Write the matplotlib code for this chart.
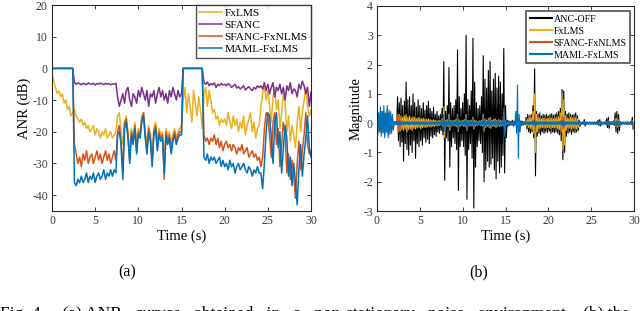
import numpy as np
import matplotlib
matplotlib.use("Agg")
import matplotlib.pyplot as plt

plt.rcParams['font.family'] = ['Liberation Serif', 'DejaVu Serif']
plt.rcParams['axes.unicode_minus'] = False

# ---------------- Panel (a): ANR curves, sampled every 0.2 s ----------------
anr_step = 0.2
fxlms_anr = [
    -2, -4, -6, -8, -7, -9, -8, -11, -10, -13, -12, -15, -14,
    -13, -15, -16, -17, -16, -18, -17, -19, -18, -20, -19, -18, -21, -19, -20, -22, -20, -21, -19, -22, -21, -20, -22, -21, -20,
    -15, -14, -20, -24, -17, -15, -20, -27, -19, -22, -17, -24, -19, -20, -15, -14, -20, -24, -18, -21, -27, -19, -17, -23, -19, -21, -20, -30, -19, -22, -20, -24, -21, -19, -22, -20, -19,
    -18,
    -10, -6, -14, -8, -12, -17, -7, -11, -15, -9, -13, -19,
    -8, -6, -12, -7, -10, -14, -13, -16, -15, -18, -16, -17,
    -16, -18, -14, -17, -19, -15, -18, -16, -20, -17, -19, -15, -21, -18, -16, -14, -20, -17, -22, -19, -18,
    -12, -8, -5, -10, -7, -12, -17, -9, -6, -13, -10, -19, -14, -8, -11, -20, -15, -23, -18, -21, -25, -17, -12, -20, -14, -10, -6, -12, -15, -13]
sfanc_anr = [
    0, 0, 0, 0, 0, 0, 0, 0, 0, 0, 0, 0, 0,
    -4.5, -5, -4.6, -4.8, -5.2, -4.7, -4.9, -5.1, -4.6, -4.9, -5.0, -4.7, -5.2, -4.8, -5.0, -4.6, -4.9, -5.1, -4.7, -5.0, -4.8, -5.2, -4.9, -5.0, -4.7,
    -9, -12, -10, -8, -11, -7, -6, -10, -12, -8, -9, -11, -7, -9, -6, -8, -10, -7, -12, -8, -9, -7, -11, -8, -6, -9, -7, -10, -8, -11, -7, -9, -6, -8, -10, -7, -9,
    -8,
    0, 0, 0, 0, 0, 0, 0, 0, 0, 0, 0, 0,
    -4.5, -5, -4.3, -5.5, -4.8, -5.2, -4.6, -6, -5, -5.4, -4.8, -5.2,
    -5, -5.5, -4.8, -5.2, -6, -5.5, -5, -6.2, -5.8, -6.5, -6, -5.5, -6.8, -6.2, -5.8, -6.5, -7, -6, -6.5, -5.5, -6,
    -5.5, -6.5, -4.5, -7, -5, -8, -6, -4.5, -9, -6, -7, -5, -8, -6, -10, -5.5, -7, -4.5, -8, -6.5, -7, -9, -5, -6.5, -4, -5.5, -8, -6, -12, -7.5]
sfanc_fxnlms_anr = [
    0, 0, 0, 0, 0, 0, 0, 0, 0, 0, 0, 0, 0,
    -24, -27, -30, -28, -31, -27, -29, -26, -30, -28, -27, -30, -28, -26, -29, -27, -30, -28, -26, -29, -27, -30, -28, -26, -29,
    -20, -18, -23, -33, -17, -16, -21, -29, -20, -23, -18, -26, -20, -21, -16, -14, -21, -26, -19, -22, -30, -20, -18, -25, -20, -22, -21, -35, -20, -23, -21, -26, -22, -20, -23, -21, -20,
    -20,
    0, 0, 0, 0, 0, 0, 0, 0, 0, 0, 0, 0,
    -21, -23, -22, -24, -22, -23, -21, -24, -22, -25, -23, -26,
    -24, -23, -25, -24, -26, -24, -25, -27, -25, -26, -24, -27, -26, -25, -28, -27, -26, -28, -27, -29, -28,
    -31, -28, -19, -14, -15, -21, -28, -17, -14, -24, -19, -31, -24, -17, -21, -33, -27, -35, -29, -34, -41, -30, -23, -32, -26, -21, -14, -24, -27, -26]
maml_fxlms_anr = [
    0, 0, 0, 0, 0, 0, 0, 0, 0, 0, 0, 0, 0,
    -36, -37, -35, -36, -34, -36, -35, -33, -36, -34, -35, -33, -36, -34, -33, -35, -34, -32, -35, -33, -34, -32, -34, -32, -33,
    -21, -20, -24, -35, -19, -17, -22, -30, -21, -24, -19, -27, -21, -22, -17, -15, -22, -27, -20, -23, -31, -21, -19, -26, -21, -23, -22, -33, -21, -24, -22, -27, -23, -21, -24, -22, -21,
    -21,
    0, 0, 0, 0, 0, 0, 0, 0, 0, 0, 0, 0,
    -28, -29, -27, -30, -28, -29, -28, -30, -29, -28, -31, -29,
    -31, -30, -32, -29, -31, -30, -33, -31, -30, -32, -31, -30, -32, -33, -31, -32, -34, -32, -33, -31, -33,
    -33, -38, -30, -20, -14, -15, -22, -30, -17, -14, -25, -20, -33, -25, -18, -22, -34, -28, -37, -30, -36, -43, -32, -24, -34, -27, -22, -15, -25, -28, -27]

# ---------------- Panel (b): waveform envelopes (peak / trough every 0.2 s) ----------------
wave_step = 0.2
ancoff_up = [
    0.3, 0.35, 0.25, 0.4, 0.35, 0.3, 0.45, 0.35, 0.25, 0.2,
    0.05, 0.05,
    0.9, 0.7, 0.85, 0.6, 0.75, 1.4, 0.8, 0.9, 0.6, 1.0, 0.7, 0.55, 0.8, 0.6, 0.5, 0.7, 0.45, 0.6, 0.75, 0.5, 0.4, 0.55, 0.3, 0.4, 0.25, 0.3,
    0.5, 2.1, 0.4, 0.6, 1.9, 0.7, 0.5, 0.6, 0.8, 2.5, 0.9, 0.5, 0.7, 1.0, 3.0, 0.8, 0.6, 1.1, 2.9, 1.4, 0.7, 0.5, 0.6, 0.9, 2.3, 1.5, 1.2, 1.8, 2.1, 1.1, 1.5, 1.7, 1.2, 1.6, 1.4, 1.0, 2.55, 0.6,
    0.1, 0.08, 0.06, 0.1, 0.07, 0.2, 0.15, 0.1, 0.08, 0.06, 0.05,
    0.2, 0.3, 0.25, 0.3, 0.6, 1.85, 0.4, 0.3, 0.35, 0.25, 0.3, 0.28, 0.3, 0.25, 0.3, 0.32, 0.27, 0.3, 0.35, 0.4, 0.5, 1.15, 1.1, 0.4, 0.3, 0.35, 0.3, 0.28, 0.3, 0.35, 0.25, 0.1,
    0.04, 0.03, 0.12, 0.04, 0.03, 0.03, 0.03, 0.03, 0.03, 0.04, 0.1, 0.12, 0.04, 0.03, 0.04, 0.15, 0.2, 0.05, 0.04, 0.08, 0.35, 0.4, 0.3, 0.05, 0.03, 0.03, 0.03, 0.04, 0.03, 0.05, 0.2]
ancoff_down = [
    -0.3, -0.25, -0.35, -0.3, -0.4, -0.3, -0.35, -0.3, -0.25, -0.2,
    -0.05, -0.05,
    -0.6, -0.8, -0.65, -1.3, -0.7, -0.9, -1.1, -0.75, -1.0, -0.6, -1.2, -0.7, -0.8, -0.6, -0.75, -0.5, -0.65, -0.55, -0.7, -0.45, -0.5, -0.4, -0.45, -0.3, -0.35, -0.25,
    -0.4, -1.95, -0.5, -0.6, -1.5, -0.8, -0.5, -0.7, -0.9, -2.3, -0.8, -0.6, -0.8, -1.1, -2.6, -0.9, -0.7, -1.2, -2.9, -1.5, -0.8, -0.6, -0.7, -1.0, -2.0, -1.6, -1.3, -1.5, -1.4, -1.2, -1.6, -1.9, -1.3, -1.7, -1.5, -1.1, -1.7, -0.5,
    -0.1, -0.08, -0.06, -0.1, -0.07, -0.2, -0.15, -0.1, -0.08, -0.06, -0.05,
    -0.2, -0.3, -0.35, -0.3, -0.5, -1.8, -0.45, -0.35, -0.4, -0.3, -0.35, -0.3, -0.32, -0.28, -0.35, -0.3, -0.33, -0.3, -0.35, -0.4, -0.6, -1.25, -1.0, -0.45, -0.35, -0.3, -0.38, -0.3, -0.33, -0.3, -0.25, -0.1,
    -0.04, -0.03, -0.1, -0.04, -0.03, -0.03, -0.03, -0.03, -0.03, -0.04, -0.08, -0.1, -0.04, -0.03, -0.04, -0.15, -0.18, -0.05, -0.04, -0.08, -0.3, -0.35, -0.25, -0.05, -0.03, -0.03, -0.03, -0.04, -0.03, -0.05, -0.2]
fxlms_up = [
    0.2, 0.25, 0.2, 0.3, 0.25, 0.2, 0.3, 0.25, 0.2, 0.15,
    0.03, 0.03,
    0.3, 0.3, 0.25, 0.2, 0.25, 0.3, 0.2, 0.25, 0.18, 0.22, 0.2, 0.15, 0.2, 0.18, 0.15, 0.17, 0.15, 0.13, 0.15, 0.12, 0.1, 0.12, 0.1, 0.08, 0.1, 0.08,
    0.15, 0.55, 0.1, 0.12, 0.3, 0.1, 0.08, 0.1, 0.12, 0.3, 0.1, 0.08, 0.1, 0.12, 0.3, 0.1, 0.08, 0.1, 0.2, 0.1, 0.08, 0.06, 0.08, 0.1, 0.3, 0.15, 0.1, 0.15, 0.2, 0.1, 0.12, 0.15, 0.1, 0.12, 0.1, 0.08, 0.4, 0.06,
    0.03, 0.03, 0.02, 0.03, 0.03, 0.05, 0.04, 0.03, 0.03, 0.02, 0.03,
    0.1, 0.15, 0.2, 0.18, 0.4, 1.0, 0.3, 0.2, 0.18, 0.15, 0.17, 0.16, 0.15, 0.17, 0.16, 0.18, 0.15, 0.17, 0.2, 0.22, 0.35, 1.0, 0.8, 0.25, 0.18, 0.17, 0.2, 0.18, 0.17, 0.2, 0.15, 0.05,
    0.02, 0.02, 0.05, 0.02, 0.02, 0.02, 0.02, 0.02, 0.02, 0.02, 0.04, 0.05, 0.02, 0.02, 0.02, 0.06, 0.08, 0.02, 0.02, 0.04, 0.15, 0.18, 0.12, 0.02, 0.02, 0.02, 0.02, 0.02, 0.02, 0.02, 0.08]
fxlms_down = [
    -0.2, -0.15, -0.25, -0.2, -0.3, -0.2, -0.25, -0.2, -0.15, -0.12,
    -0.03, -0.03,
    -0.3, -0.28, -0.22, -0.25, -0.2, -0.3, -0.22, -0.2, -0.25, -0.18, -0.2, -0.17, -0.15, -0.2, -0.16, -0.14, -0.15, -0.13, -0.12, -0.14, -0.1, -0.12, -0.09, -0.1, -0.08, -0.07,
    -0.12, -0.5, -0.1, -0.12, -0.25, -0.1, -0.08, -0.1, -0.12, -0.28, -0.1, -0.08, -0.1, -0.12, -0.25, -0.1, -0.08, -0.1, -0.2, -0.1, -0.08, -0.06, -0.08, -0.1, -0.28, -0.15, -0.1, -0.15, -0.18, -0.1, -0.12, -0.15, -0.1, -0.12, -0.1, -0.08, -0.35, -0.06,
    -0.03, -0.03, -0.02, -0.03, -0.03, -0.05, -0.04, -0.03, -0.03, -0.02, -0.03,
    -0.1, -0.15, -0.18, -0.2, -0.35, -1.0, -0.3, -0.2, -0.18, -0.15, -0.16, -0.17, -0.15, -0.16, -0.18, -0.15, -0.17, -0.16, -0.2, -0.22, -0.3, -0.9, -0.75, -0.25, -0.18, -0.17, -0.2, -0.17, -0.18, -0.2, -0.15, -0.05,
    -0.02, -0.02, -0.04, -0.02, -0.02, -0.02, -0.02, -0.02, -0.02, -0.02, -0.03, -0.04, -0.02, -0.02, -0.02, -0.05, -0.07, -0.02, -0.02, -0.03, -0.12, -0.15, -0.1, -0.02, -0.02, -0.02, -0.02, -0.02, -0.02, -0.02, -0.07]
sfanc_fxnlms_up = [
    0.2, 0.25, 0.2, 0.3, 0.25, 0.2, 0.3, 0.25, 0.2, 0.15,
    0.03, 0.03,
    0.3, 0.25, 0.1, 0.06, 0.05, 0.05, 0.04, 0.04, 0.04, 0.04, 0.04, 0.04, 0.04, 0.03, 0.03, 0.03, 0.03, 0.03, 0.03, 0.03, 0.03, 0.03, 0.03, 0.03, 0.03, 0.03,
    0.1, 0.25, 0.05, 0.05, 0.15, 0.05, 0.04, 0.05, 0.05, 0.2, 0.05, 0.04, 0.05, 0.06, 0.2, 0.05, 0.04, 0.05, 0.12, 0.05, 0.04, 0.04, 0.04, 0.05, 0.18, 0.08, 0.05, 0.08, 0.1, 0.05, 0.06, 0.08, 0.05, 0.06, 0.05, 0.04, 0.3, 0.04,
    0.02, 0.02, 0.02, 0.02, 0.02, 0.03, 0.03, 0.02, 0.02, 0.02, 0.02,
    0.03, 0.04, 0.04, 0.04, 0.1, 0.3, 0.06, 0.04, 0.04, 0.04, 0.04, 0.04, 0.04, 0.04, 0.04, 0.04, 0.04, 0.04, 0.05, 0.05, 0.08, 0.25, 0.2, 0.05, 0.04, 0.04, 0.04, 0.04, 0.04, 0.04, 0.04, 0.02,
    0.02, 0.02, 0.03, 0.02, 0.02, 0.02, 0.02, 0.02, 0.02, 0.02, 0.03, 0.03, 0.02, 0.02, 0.02, 0.04, 0.05, 0.02, 0.02, 0.03, 0.08, 0.1, 0.07, 0.02, 0.02, 0.02, 0.02, 0.02, 0.02, 0.02, 0.05]
sfanc_fxnlms_down = [
    -0.2, -0.15, -0.25, -0.2, -0.3, -0.2, -0.25, -0.2, -0.15, -0.12,
    -0.03, -0.03,
    -0.3, -0.22, -0.08, -0.05, -0.05, -0.04, -0.04, -0.04, -0.04, -0.04, -0.04, -0.04, -0.03, -0.03, -0.03, -0.03, -0.03, -0.03, -0.03, -0.03, -0.03, -0.03, -0.03, -0.03, -0.03, -0.03,
    -0.08, -0.22, -0.05, -0.05, -0.12, -0.05, -0.04, -0.05, -0.05, -0.18, -0.05, -0.04, -0.05, -0.06, -0.18, -0.05, -0.04, -0.05, -0.1, -0.05, -0.04, -0.04, -0.04, -0.05, -0.15, -0.07, -0.05, -0.07, -0.09, -0.05, -0.06, -0.07, -0.05, -0.06, -0.05, -0.04, -0.25, -0.04,
    -0.02, -0.02, -0.02, -0.02, -0.02, -0.02, -0.02, -0.02, -0.02, -0.02, -0.02,
    -0.03, -0.04, -0.04, -0.04, -0.09, -0.28, -0.05, -0.04, -0.04, -0.04, -0.04, -0.04, -0.04, -0.04, -0.04, -0.04, -0.04, -0.04, -0.05, -0.05, -0.07, -0.22, -0.18, -0.05, -0.04, -0.04, -0.04, -0.04, -0.04, -0.04, -0.04, -0.02,
    -0.02, -0.02, -0.03, -0.02, -0.02, -0.02, -0.02, -0.02, -0.02, -0.02, -0.03, -0.03, -0.02, -0.02, -0.02, -0.04, -0.05, -0.02, -0.02, -0.03, -0.07, -0.09, -0.06, -0.02, -0.02, -0.02, -0.02, -0.02, -0.02, -0.02, -0.05]
maml_up = [
    0.45, 0.35, 0.55, 0.4, 0.6, 0.35, 0.6, 0.45, 0.4, 0.3,
    0.05, 0.05,
    0.06, 0.05, 0.05, 0.06, 0.05, 0.05, 0.06, 0.05, 0.05, 0.05, 0.06, 0.05, 0.05, 0.05, 0.05, 0.05, 0.05, 0.05, 0.04, 0.05, 0.04, 0.05, 0.04, 0.05, 0.04, 0.05,
    0.1, 0.3, 0.08, 0.06, 0.2, 0.07, 0.05, 0.06, 0.08, 0.25, 0.07, 0.05, 0.06, 0.08, 0.25, 0.07, 0.05, 0.06, 0.15, 0.06, 0.05, 0.05, 0.05, 0.06, 0.22, 0.1, 0.06, 0.1, 0.12, 0.06, 0.07, 0.1, 0.06, 0.08, 0.06, 0.05, 0.5, 0.1,
    0.05, 0.04, 0.05, 0.04, 0.05, 0.4, 1.3, 0.3, 0.05, 0.04, 0.04,
    0.04, 0.05, 0.05, 0.05, 0.06, 0.12, 0.05, 0.05, 0.05, 0.05, 0.05, 0.05, 0.05, 0.05, 0.05, 0.05, 0.05, 0.05, 0.05, 0.05, 0.06, 0.1, 0.08, 0.05, 0.05, 0.05, 0.05, 0.05, 0.05, 0.05, 0.05, 0.04,
    0.04, 0.04, 0.05, 0.04, 0.04, 0.04, 0.04, 0.04, 0.04, 0.04, 0.05, 0.06, 0.04, 0.04, 0.04, 0.05, 0.06, 0.04, 0.04, 0.05, 0.07, 0.08, 0.06, 0.04, 0.04, 0.04, 0.04, 0.04, 0.04, 0.04, 0.06]
maml_down = [
    -0.4, -0.3, -0.45, -0.35, -0.5, -0.3, -0.5, -0.4, -0.35, -0.25,
    -0.05, -0.05,
    -0.06, -0.05, -0.05, -0.06, -0.05, -0.05, -0.06, -0.05, -0.05, -0.05, -0.06, -0.05, -0.05, -0.05, -0.05, -0.05, -0.05, -0.05, -0.04, -0.05, -0.04, -0.05, -0.04, -0.05, -0.04, -0.05,
    -0.1, -0.28, -0.08, -0.06, -0.18, -0.07, -0.05, -0.06, -0.08, -0.22, -0.07, -0.05, -0.06, -0.08, -0.22, -0.07, -0.05, -0.06, -0.14, -0.06, -0.05, -0.05, -0.05, -0.06, -0.2, -0.1, -0.06, -0.1, -0.11, -0.06, -0.07, -0.1, -0.06, -0.08, -0.06, -0.05, -0.45, -0.1,
    -0.05, -0.04, -0.05, -0.04, -0.05, -0.35, -1.2, -0.3, -0.05, -0.04, -0.04,
    -0.04, -0.05, -0.05, -0.05, -0.06, -0.12, -0.05, -0.05, -0.05, -0.05, -0.05, -0.05, -0.05, -0.05, -0.05, -0.05, -0.05, -0.05, -0.05, -0.05, -0.06, -0.1, -0.08, -0.05, -0.05, -0.05, -0.05, -0.05, -0.05, -0.05, -0.05, -0.04,
    -0.04, -0.04, -0.05, -0.04, -0.04, -0.04, -0.04, -0.04, -0.04, -0.04, -0.05, -0.06, -0.04, -0.04, -0.04, -0.05, -0.06, -0.04, -0.04, -0.05, -0.07, -0.08, -0.06, -0.04, -0.04, -0.04, -0.04, -0.04, -0.04, -0.04, -0.06]

labels_a = ['FxLMS', 'SFANC', 'SFANC-FxNLMS', 'MAML-FxLMS']
labels_b = ['ANC-OFF', 'FxLMS', 'SFANC-FxNLMS', 'MAML-FxLMS']
caption = "Fig. 4.    (a) ANR   curves   obtained   in   a   non-stationary   noise   environment.   (b) the"

C_BLUE, C_ORANGE, C_YELLOW, C_PURPLE = '#0072BD', '#D95319', '#EDB120', '#7E2F8E'
TICK_C = '#3a3a3a'


def style_axes(ax):
    for s in ax.spines.values():
        s.set_color('#262626')
        s.set_linewidth(0.8)
    ax.tick_params(direction='in', length=3, width=0.6, top=True, right=True,
                   labelsize=8.5, colors='#262626', labelcolor=TICK_C, pad=3)


fig = plt.figure(figsize=(6.4, 3.11), dpi=100)
ax1 = fig.add_axes([52 / 640, 1 - 211 / 311, 259 / 640, 206 / 311])
ax2 = fig.add_axes([377 / 640, 1 - 211 / 311, 257 / 640, 205 / 311])

# ---- panel (a)
series_a = [(fxlms_anr, C_YELLOW), (sfanc_anr, C_PURPLE),
            (sfanc_fxnlms_anr, C_ORANGE), (maml_fxlms_anr, C_BLUE)]
for (vals, col), lab in zip(series_a, labels_a):
    t = np.arange(len(vals)) * anr_step
    ax1.plot(t, vals, color=col, lw=1.1, label=lab)
ax1.set_xlim(0, 30)
ax1.set_ylim(-45, 20)
ax1.set_xticks([0, 5, 10, 15, 20, 25, 30])
ax1.set_yticks([-40, -30, -20, -10, 0, 10, 20])
ax1.set_xlabel('Time (s)', fontsize=10.5, labelpad=2)
ax1.set_ylabel('ANR (dB)', fontsize=10.5, labelpad=0.5)
style_axes(ax1)
leg1 = ax1.legend(loc='upper right', bbox_to_anchor=(1.0, 1.0), fontsize=8.2,
                  frameon=True, fancybox=False, edgecolor='#262626',
                  handlelength=2.0, handletextpad=0.2, labelspacing=0.18,
                  borderpad=0.3, borderaxespad=0.0)
leg1.get_frame().set_linewidth(1.0)

# ---- panel (b)
series_b = [(ancoff_up, ancoff_down, 'black', 0.8),
            (fxlms_up, fxlms_down, C_YELLOW, 0.8),
            (sfanc_fxnlms_up, sfanc_fxnlms_down, C_ORANGE, 0.8),
            (maml_up, maml_down, C_BLUE, 0.8)]
for (up, dn, col, lw), lab in zip(series_b, labels_b):
    n = len(up)
    tt = np.arange(n) * wave_step
    x = np.empty(2 * n)
    y = np.empty(2 * n)
    x[0::2] = tt
    x[1::2] = tt + wave_step / 2
    y[0::2] = up
    y[1::2] = dn
    ax2.plot(x, y, color=col, lw=lw, label=lab)
ax2.set_xlim(0, 30)
ax2.set_ylim(-3, 4)
ax2.set_xticks([0, 5, 10, 15, 20, 25, 30])
ax2.set_yticks([-3, -2, -1, 0, 1, 2, 3, 4])
ax2.set_xlabel('Time (s)', fontsize=10.5, labelpad=2)
ax2.set_ylabel('Magnitude', fontsize=10.5, labelpad=0.5)
style_axes(ax2)
leg2 = ax2.legend(loc='upper right', bbox_to_anchor=(0.985, 0.975), fontsize=7.2,
                  frameon=True, fancybox=False, edgecolor='#262626',
                  handlelength=2.2, handletextpad=0.2, labelspacing=0.3,
                  borderpad=0.35, borderaxespad=0.0)
leg2.get_frame().set_linewidth(1.2)
for lh in leg2.get_lines():
    lh.set_linewidth(1.5)

fig.text(127 / 640, 1 - 272 / 311, '(a)', ha='center', va='center', fontsize=11.5)
fig.text(479 / 640, 1 - 272 / 311, '(b)', ha='center', va='center', fontsize=11.5)
fig.text(0.0, 1 - 318.5 / 311, caption, ha='left', va='baseline', fontsize=12.5)

fig.savefig('out.png', dpi=100)
